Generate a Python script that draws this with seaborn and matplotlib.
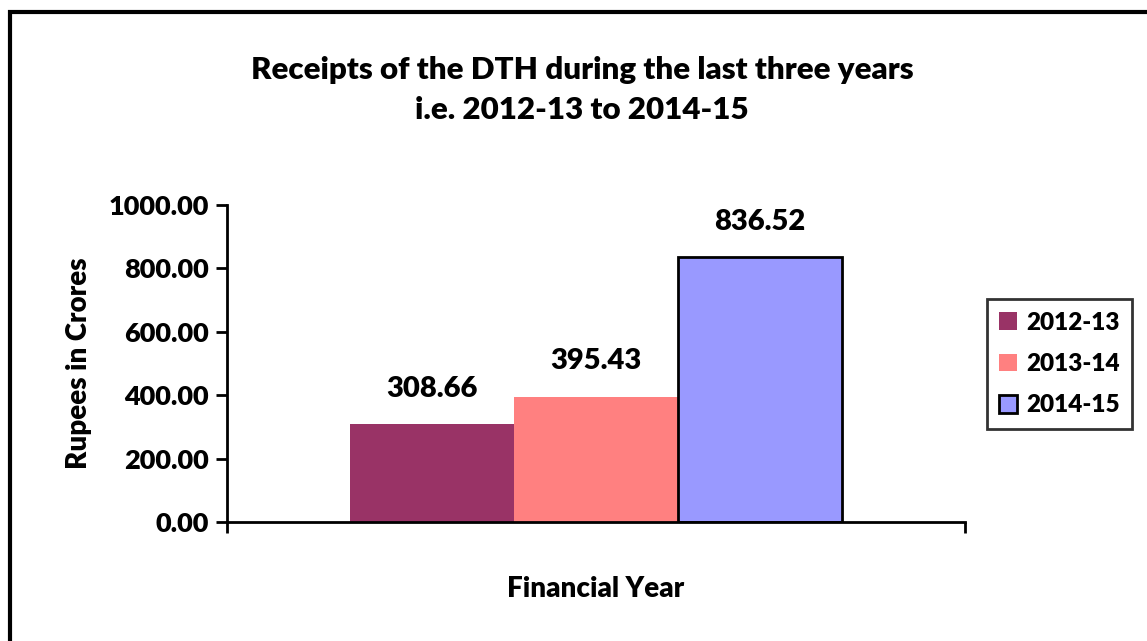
import matplotlib
matplotlib.use("Agg")
import matplotlib.pyplot as plt
import seaborn as sns
import pandas as pd
from matplotlib.patches import Rectangle, Patch

years = ["2012-13", "2013-14", "2014-15"]
receipts = [308.66, 395.43, 836.52]
colors = ["#993366", "#FF8080", "#9999FF"]
yticks = [0, 200, 400, 600, 800, 1000]

sns.set_style("white")
plt.rcParams["font.family"] = ["Lato", "DejaVu Sans"]
W = "heavy"
plt.rcParams["font.weight"] = W
plt.rcParams["text.color"] = "black"
plt.rcParams["axes.labelcolor"] = "black"
plt.rcParams["xtick.color"] = "black"
plt.rcParams["ytick.color"] = "black"

df = pd.DataFrame({"cat": ["All"] * len(years), "Year": years, "Receipts": receipts})

fig = plt.figure(figsize=(11.47, 6.41), dpi=100)
ax = fig.add_axes([227 / 1147, 1 - 522 / 641, (965 - 227) / 1147, (522 - 205) / 641])

sns.barplot(data=df, x="cat", y="Receipts", hue="Year", palette=colors,
            width=492 / 738, ax=ax, legend=False, saturation=1, errorbar=None)

for i, p in enumerate(ax.patches):
    if i == 2:
        p.set_edgecolor("black")
        p.set_linewidth(2)
    else:
        p.set_edgecolor("none")
        p.set_linewidth(0)
    ax.text(p.get_x() + p.get_width() / 2, p.get_height() + 70, f"{receipts[i]:.2f}",
            ha="center", va="bottom", fontsize=21, fontweight=W, color="black")

ax.set_xlim(-0.5, 0.5)
ax.set_ylim(0, 1000)
ax.set_yticks(yticks)
ax.set_yticklabels([f"{v:.2f}" for v in yticks], fontsize=19.5, fontweight=W)
ax.set_xticks([-0.5, 0.5])
ax.set_xticklabels(["", ""])
ax.tick_params(axis="both", direction="out", length=8, width=2, color="black",
               labelcolor="black", bottom=True, left=True, pad=5)
for s in ["top", "right"]:
    ax.spines[s].set_visible(False)
for s in ["left", "bottom"]:
    ax.spines[s].set_color("black")
    ax.spines[s].set_linewidth(2)

ax.set_xlabel("Financial Year", fontsize=20, fontweight=W, labelpad=26, color="black")
ax.set_ylabel("Rupees in Crores", fontsize=20, fontweight=W, labelpad=12, color="black")

fig.text(582 / 1147, 1 - 90 / 641, "Receipts of the DTH during the last three years\ni.e. 2012-13 to 2014-15",
         ha="center", va="center", fontsize=22.5, fontweight=W, linespacing=1.5, color="black")

handles = [Patch(facecolor=colors[0], edgecolor="none"),
           Patch(facecolor=colors[1], edgecolor="none"),
           Patch(facecolor=colors[2], edgecolor="black", linewidth=2)]
leg = fig.legend(handles, years, loc="center left", bbox_to_anchor=(987 / 1147, 1 - 364 / 641),
                 prop={"weight": W, "size": 17.5}, frameon=True, fancybox=False,
                 handlelength=0.75, handleheight=0.75, handletextpad=0.35, labelspacing=0.8,
                 borderpad=0.5, borderaxespad=0, edgecolor="black")
leg.get_frame().set_linewidth(2)
for t in leg.get_texts():
    t.set_color("black")

fig.patches.append(Rectangle((10 / 1147, -0.1), 1.2, 1 - 12 / 641 + 0.1, transform=fig.transFigure,
                             fill=False, edgecolor="black", linewidth=3, zorder=10))

fig.savefig("out.png", dpi=100)
